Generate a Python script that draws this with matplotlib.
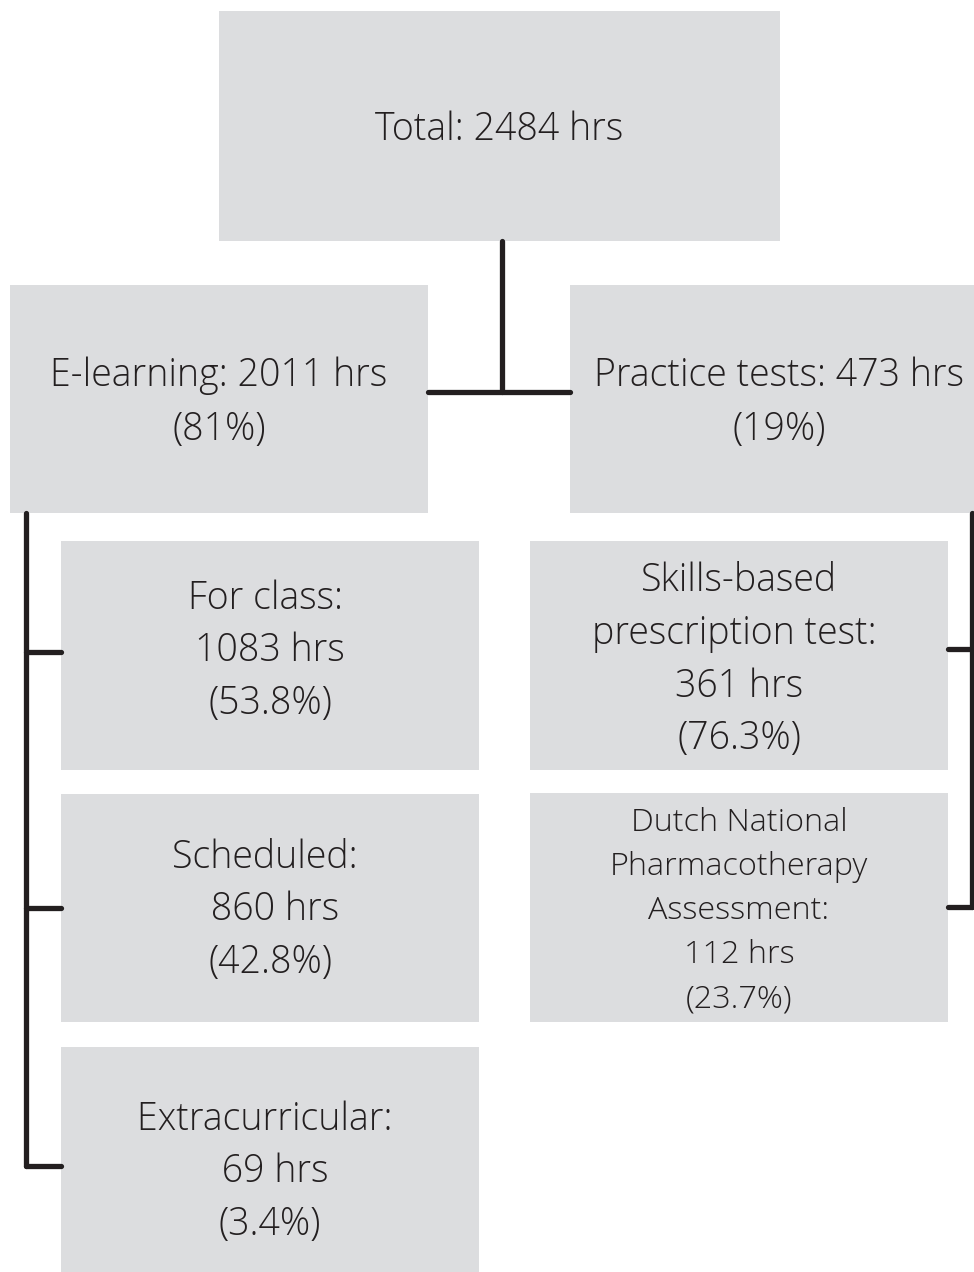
import matplotlib
matplotlib.use("Agg")
import matplotlib.pyplot as plt
from matplotlib.patches import Rectangle
from matplotlib import font_manager as fm

# ---- data ----
total_label = "Total: 2484 hrs"
branch_labels = ["E-learning: 2011 hrs\n(81%)", "Practice tests: 473 hrs\n(19%)"]
elearning_labels = ["For class: \n1083 hrs\n(53.8%)",
                    "Scheduled: \n 860 hrs\n(42.8%)",
                    "Extracurricular: \n 69 hrs\n(3.4%)"]
practice_labels = ["Skills-based\nprescription test: \n361 hrs\n(76.3%)",
                   "Dutch National\nPharmacotherapy\nAssessment:\n112 hrs\n(23.7%)"]

BOX = "#dcdddf"
LINE = "#231f20"
TXT = "#231f20"
W, H = 974, 1272

# try to find a light, non-condensed Open Sans face
light_file = None
for f in fm.fontManager.ttflist:
    nm = f.name.lower()
    fn = f.fname.lower()
    if (nm.startswith("open sans") and "cond" not in nm and "cond" not in fn
            and f.stretch in ("normal", 500)
            and isinstance(f.weight, int) and f.weight < 400 and f.style == "normal"):
        light_file = f.fname
        break


def fprops(size):
    if light_file:
        return fm.FontProperties(fname=light_file, size=size)
    return fm.FontProperties(family="Open Sans", weight="normal", size=size)


fig = plt.figure(figsize=(W / 100, H / 100), dpi=100)
ax = fig.add_axes([0, 0, 1, 1])
ax.set_xlim(0, W)
ax.set_ylim(H, 0)
ax.axis("off")


def box(x0, y0, x1, y1, label, size=27, ls=1.48, ty=None):
    ax.add_patch(Rectangle((x0, y0), x1 - x0, y1 - y0, facecolor=BOX, edgecolor="none", zorder=1))
    if ty is None:
        ty = (y0 + y1) / 2
    ax.text((x0 + x1) / 2, ty, label, ha="center", va="center",
            fontproperties=fprops(size), color=TXT,
            linespacing=ls, zorder=3)


def line(xs, ys):
    ax.plot(xs, ys, color=LINE, lw=3.8, solid_capstyle="round", solid_joinstyle="miter", zorder=2)


# top
box(219, 11, 780, 241, total_label, size=27, ty=130)
# connectors top
line([502, 502], [241, 392])
line([428, 570], [392, 392])
# branches
box(10, 285, 428, 513, branch_labels[0], size=27, ls=1.51, ty=403)
box(570, 285, 988, 513, branch_labels[1], size=27, ls=1.51, ty=403)

# left children
left_y = [(541, 770), (794, 1022), (1047, 1290)]
left_ty = [651, 910, 1172]
for (y0, y1), lab, ty in zip(left_y, elearning_labels, left_ty):
    box(61, y0, 479, y1, lab, size=27, ls=1.48, ty=ty)
line([26, 26], [513, 1166])
for yc in [652, 908, 1166]:
    line([26, 61], [yc, yc])

# right children
box(530, 541, 948, 770, practice_labels[0], size=27, ls=1.48, ty=660)
box(530, 793, 948, 1022, practice_labels[1], size=23.3, ls=1.51, ty=911)
line([972, 972], [513, 907])
line([948, 972], [649, 649])
line([948, 972], [907, 907])

fig.savefig("out.png", dpi=100, facecolor="white")
